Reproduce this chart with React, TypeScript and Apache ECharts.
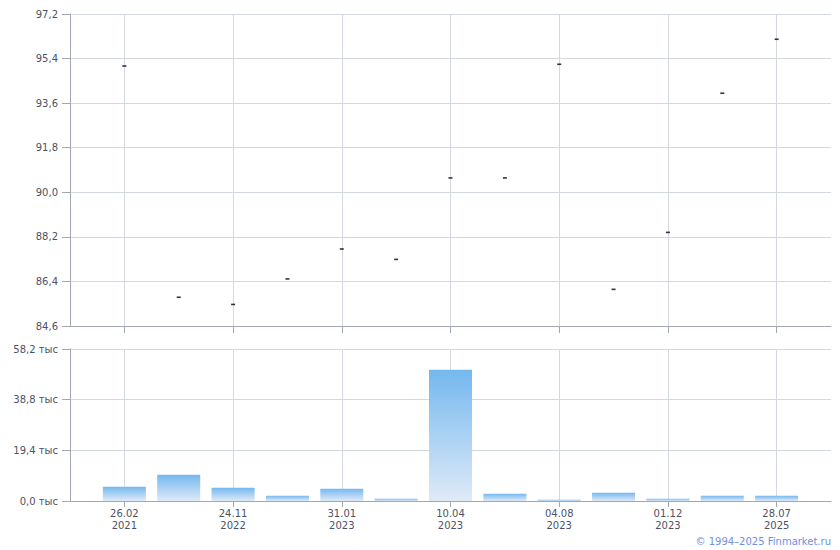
import React, { useEffect, useRef } from "react";
import * as echarts from "echarts";

const categories: string[] = [
  "",
  "26.02\n2021",
  "",
  "24.11\n2022",
  "",
  "31.01\n2023",
  "",
  "10.04\n2023",
  "",
  "04.08\n2023",
  "",
  "01.12\n2023",
  "",
  "28.07\n2025",
  "",
];

const priceValues: (number | null)[] = [
  null, 95.1, 85.76, 85.47, 86.5, 87.71, 87.29, 90.58, 90.58, 95.17, 86.08, 88.38, 94.0, 96.18, null,
];

const volumeValues: (number | null)[] = [
  null, 5.48, 10.07, 5.09, 2.04, 4.71, 0.89, 50.27, 2.8, 0.5, 3.18, 0.89, 2.04, 2.04, null,
];

const priceTicks = { min: 84.6, max: 97.2, interval: 1.8 };
const volumeTicks = { min: 0, max: 58.2, interval: 19.4 };
const volumeUnit = "тыс";
const copyright = "© 1994–2025 Finmarket.ru";

const FONT = "'DejaVu Sans', Verdana, sans-serif";
const AXIS_COLOR = "#a3a7ae";
const GRID_COLOR = "#d3d9de";
const LABEL_COLOR = "#4c5266";

const odd = (i: number) => i % 2 === 1;

export default function App() {
  const ref = useRef<HTMLDivElement>(null);
  useEffect(() => {
    if (!ref.current) return;
    const chart = echarts.init(ref.current, undefined, { renderer: "svg" });
    const fmt = (v: number) => v.toFixed(1).replace(".", ",");
    chart.setOption({
      animation: false,
      backgroundColor: "#ffffff",
      textStyle: { fontFamily: FONT },
      grid: [
        { left: 70, right: 9, top: 14, height: 312 },
        { left: 70, right: 9, top: 349, height: 152 },
      ],
      xAxis: [0, 1].map((g) => ({
        type: "category",
        gridIndex: g,
        data: categories,
        boundaryGap: false,
        axisLine: { show: true, lineStyle: { color: AXIS_COLOR, width: 1 } },
        axisTick: { show: true, interval: (i: number) => odd(i), length: g === 0 ? 7 : 6, lineStyle: { color: AXIS_COLOR } },
        axisLabel: {
          show: g === 1,
          interval: (i: number) => odd(i),
          color: LABEL_COLOR,
          fontSize: 10,
          fontFamily: FONT,
          lineHeight: 12,
          margin: 6,
        },
        splitLine: { show: true, interval: (i: number) => odd(i), lineStyle: { color: GRID_COLOR, width: 1 } },
      })),
      yAxis: [
        {
          type: "value",
          gridIndex: 0,
          min: priceTicks.min,
          max: priceTicks.max,
          interval: priceTicks.interval,
          axisLine: { show: true, lineStyle: { color: AXIS_COLOR } },
          axisTick: { show: true, length: 8, lineStyle: { color: AXIS_COLOR } },
          axisLabel: { color: LABEL_COLOR, fontSize: 10, fontFamily: FONT, margin: 12, formatter: (v: number) => fmt(v) },
          splitLine: { show: true, lineStyle: { color: GRID_COLOR } },
        },
        {
          type: "value",
          gridIndex: 1,
          min: volumeTicks.min,
          max: volumeTicks.max,
          interval: volumeTicks.interval,
          axisLine: { show: true, lineStyle: { color: AXIS_COLOR } },
          axisTick: { show: true, length: 8, lineStyle: { color: AXIS_COLOR } },
          axisLabel: {
            color: LABEL_COLOR,
            fontSize: 10,
            fontFamily: FONT,
            margin: 12,
            formatter: (v: number) => `${fmt(v)} ${volumeUnit}`,
          },
          splitLine: { show: true, lineStyle: { color: GRID_COLOR } },
        },
      ],
      series: [
        {
          type: "scatter",
          xAxisIndex: 0,
          yAxisIndex: 0,
          data: priceValues,
          symbol: "rect",
          symbolSize: [4, 1.6],
          itemStyle: { color: "#000000" },
          silent: true,
        },
        {
          type: "bar",
          xAxisIndex: 1,
          yAxisIndex: 1,
          data: volumeValues,
          barWidth: 43,
          itemStyle: {
            color: new echarts.graphic.LinearGradient(0, 0, 0, 1, [
              { offset: 0, color: "#74b8ef" },
              { offset: 1, color: "#dfeaf7" },
            ]),
          },
          silent: true,
        },
      ],
      graphic: [
        {
          type: "text",
          right: 9,
          top: 536,
          style: { text: copyright, fill: "#6f8fdf", font: `10px ${FONT}` },
        },
      ],
    });
    return () => chart.dispose();
  }, []);
  return (
    <div
      ref={ref}
      style={{ position: "fixed", left: 0, top: 0, width: 840, height: 550 }}
    />
  );
}
